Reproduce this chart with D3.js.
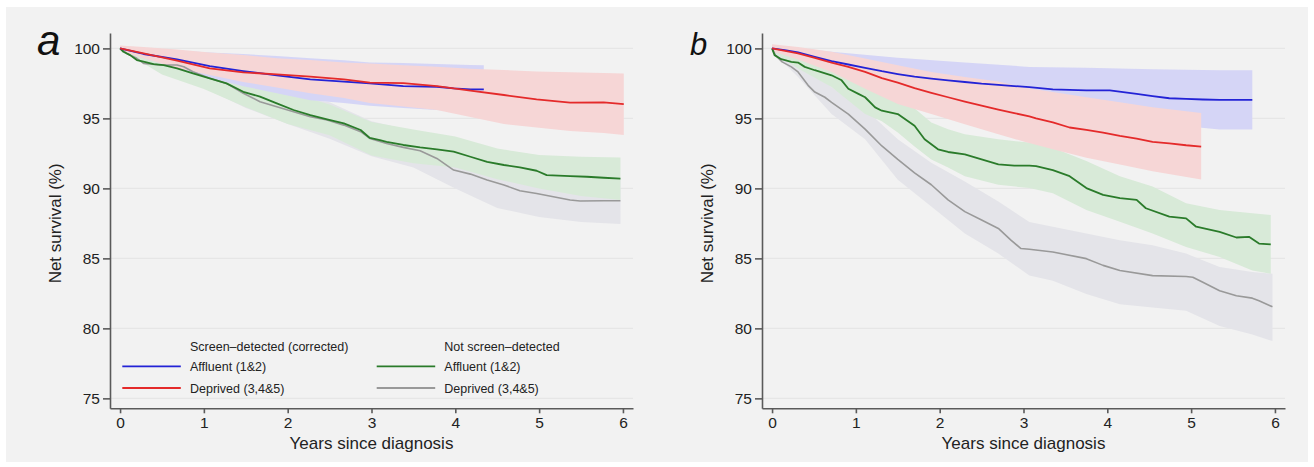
<!DOCTYPE html>
<html><head><meta charset="utf-8">
<script src="https://cdn.jsdelivr.net/npm/d3@7"></script>
<style>body{margin:0;background:#fff}svg{display:block}text{font-family:"Liberation Sans",Arial,Helvetica,sans-serif}</style>
</head><body>
<script>
// ---------- tick labels ----------
const yTicks = [75, 80, 85, 90, 95, 100];
const xTicks = [0, 1, 2, 3, 4, 5, 6];

// ---------- Panel a ----------
const aBlueT = [0,0.28,0.68,1.07,1.47,1.87,2.27,2.67,2.98,3.38,3.78,3.98,4.18,4.34];
const aBlueV = [100,99.6,99.21,98.74,98.38,98.07,97.79,97.62,97.5,97.31,97.26,97.14,97.07,97.07];
const aBlueHi = [100.1,99.95,99.85,99.7,99.6,99.45,99.3,99.15,99.0,98.95,98.88,98.85,98.82,98.8];
const aBlueLo = [99.9,99.3,98.6,97.9,97.3,96.8,96.3,96.1,95.9,95.75,95.6,95.55,95.5,95.5];

const aRedT = [0,0.28,0.68,1.07,1.47,1.87,2.27,2.67,2.98,3.38,3.78,4.18,4.58,4.97,5.37,5.77,6.01];
const aRedV = [100,99.64,99.12,98.57,98.29,98.14,97.98,97.79,97.55,97.52,97.31,96.98,96.67,96.36,96.12,96.14,96.02];
const aRedHi = [100.2,100.1,99.93,99.7,99.52,99.3,99.17,99.0,98.93,98.8,98.69,98.55,98.45,98.35,98.29,98.25,98.21];
const aRedLo = [99.85,99.3,98.6,98.1,97.6,97.2,96.8,96.45,96.1,95.85,95.6,95.1,94.6,94.35,94.1,93.95,93.81];

const aGreenT = [0,0.04,0.12,0.2,0.28,0.4,0.52,0.68,0.87,1.07,1.27,1.47,1.67,1.87,2.07,2.27,2.47,2.67,2.87,2.98,3.1,3.18,3.38,3.58,3.78,3.98,4.18,4.38,4.58,4.77,4.97,5.09,5.37,5.57,5.77,5.97];
const aGreenV = [100,99.76,99.52,99.17,99.05,98.88,98.81,98.57,98.21,97.86,97.5,96.9,96.55,96.07,95.6,95.24,94.93,94.64,94.17,93.6,93.45,93.33,93.1,92.93,92.79,92.62,92.26,91.9,91.67,91.5,91.26,90.95,90.88,90.83,90.76,90.69];
const aGreenBandT = [0,0.5,1,1.5,2,2.5,3,3.5,4,4.5,5,5.5,5.97];
const aGreenHi = [100.05,99.5,98.8,97.9,96.9,96.0,94.75,94.2,93.7,92.85,92.38,92.26,92.21];
const aGreenLo = [99.95,98.14,97.1,95.8,94.6,93.8,92.35,91.8,91.5,90.65,90.0,89.45,89.17];

const aGrayT = [0,0.08,0.2,0.28,0.48,0.68,0.76,0.87,1.07,1.27,1.47,1.67,1.87,2.07,2.27,2.47,2.67,2.87,2.98,3.18,3.38,3.58,3.78,3.98,4.18,4.38,4.58,4.77,4.97,5.17,5.37,5.49,5.77,5.97];
const aGrayV = [100,99.64,99.29,98.93,98.81,98.81,98.69,98.33,97.86,97.5,96.79,96.19,95.83,95.48,95.12,94.88,94.52,94.05,93.57,93.21,92.93,92.69,92.14,91.31,91.02,90.6,90.24,89.83,89.64,89.4,89.17,89.1,89.12,89.12];
const aGrayBandT = [0,0.5,1,1.5,2,2.5,3,3.5,4,4.5,5,5.5,5.97];
const aGrayHi = [100.1,99.3,98.8,97.65,96.6,96.15,94.8,94.1,92.6,92.2,91.25,90.65,90.75];
const aGrayLo = [99.9,98.3,97.2,95.75,94.6,93.55,92.3,91.5,90.0,88.6,87.95,87.6,87.45];

// ---------- Panel b ----------
const bBlueT = [0,0.15,0.31,0.51,0.71,0.91,1.11,1.31,1.5,1.7,1.9,2.1,2.3,2.5,2.7,2.89,3.07,3.35,3.75,4.03,4.35,4.54,4.74,4.94,5.14,5.34,5.54,5.73];
const bBlueV = [100,99.88,99.71,99.4,99.09,98.85,98.61,98.37,98.17,97.98,97.84,97.72,97.6,97.48,97.4,97.31,97.24,97.07,97.0,97.0,96.75,96.59,96.44,96.39,96.35,96.32,96.32,96.32];
const bBlueBandT = [0,0.71,1.5,2.3,3.07,3.75,4.54,5.34,5.73];
const bBlueHi = [100.2,99.76,99.33,98.99,98.68,98.61,98.51,98.44,98.44];
const bBlueLo = [99.9,98.42,97.01,96.21,95.8,95.39,94.67,94.2,94.2];

const bRedT = [0,0.31,0.51,0.71,0.91,1.11,1.31,1.5,1.7,1.9,2.1,2.3,2.5,2.7,2.89,3.07,3.15,3.35,3.55,3.75,3.95,4.15,4.35,4.54,4.74,4.94,5.12];
const bRedV = [100,99.64,99.33,98.99,98.68,98.32,97.88,97.55,97.16,96.83,96.51,96.2,95.91,95.63,95.38,95.14,95.0,94.71,94.35,94.18,93.99,93.75,93.56,93.32,93.22,93.08,92.98];
const bRedBandT = [0,0.31,0.71,1.11,1.5,1.9,2.3,2.7,3.0,3.35,3.75,4.15,4.54,5.12];
const bRedHi = [100.3,100.1,99.76,99.28,98.8,98.32,97.96,97.64,97.2,96.88,96.51,96.15,95.79,95.38];
const bRedLo = [99.8,99.2,98.32,97.12,96.03,95.31,94.59,93.87,93.35,92.79,92.19,91.71,91.23,90.63];

const bGreenT = [0,0.03,0.11,0.23,0.31,0.39,0.51,0.71,0.83,0.91,1.03,1.11,1.23,1.31,1.5,1.7,1.82,1.98,2.1,2.3,2.5,2.7,2.89,3.07,3.15,3.35,3.55,3.75,3.95,4.15,4.35,4.46,4.74,4.94,5.06,5.34,5.54,5.69,5.81,5.95];
const bGreenV = [100,99.52,99.23,99.04,98.99,98.68,98.44,98.08,97.72,97.12,96.75,96.51,95.79,95.55,95.31,94.47,93.51,92.79,92.6,92.43,92.07,91.71,91.63,91.63,91.59,91.3,90.87,90.02,89.54,89.3,89.18,88.58,87.98,87.86,87.26,86.9,86.49,86.54,86.06,86.0];
const bGreenBandT = [0,0.31,0.71,1.11,1.31,1.5,1.7,1.9,2.1,2.3,2.7,3.07,3.35,3.75,4.15,4.54,4.94,5.34,5.73,5.95];
const bGreenHi = [100.2,99.4,98.92,97.72,97.12,96.51,95.72,94.71,94.23,93.87,93.51,93.27,92.91,91.95,90.87,90.14,88.94,88.46,88.22,88.1];
const bGreenLo = [99.8,98.56,97.24,95.31,94.8,93.99,93.0,92.07,91.5,90.87,90.26,90.02,89.66,88.46,87.62,86.78,85.82,85.1,84.14,83.9];

const bGrayT = [0,0.04,0.12,0.23,0.31,0.43,0.51,0.63,0.71,0.91,1.11,1.31,1.5,1.7,1.9,2.1,2.3,2.5,2.7,2.85,2.97,3.07,3.35,3.75,3.95,4.15,4.54,4.94,5.02,5.14,5.34,5.54,5.73,5.81,5.97];
const bGrayV = [100,99.52,99.04,98.68,98.32,97.36,96.88,96.51,96.15,95.3,94.23,93.03,92.07,91.11,90.26,89.18,88.34,87.74,87.14,86.3,85.7,85.65,85.46,84.98,84.5,84.13,83.77,83.7,83.65,83.29,82.69,82.33,82.16,81.97,81.54];
const bGrayBandT = [0,0.31,0.71,1.11,1.5,1.9,2.3,2.7,3.07,3.35,3.75,4.15,4.54,4.94,5.34,5.73,5.97];
const bGrayHi = [100.2,98.92,97.24,95.67,93.51,91.83,90.5,89.06,87.6,87.26,86.78,86.3,85.94,85.34,84.38,84.02,83.9];
const bGrayLo = [99.8,97.96,95.31,93.51,90.62,88.7,86.78,85.34,83.77,83.41,82.45,81.73,81.49,81.25,80.17,79.57,79.09];

// ---------- legend ----------
const legendHeaders = ["Screen\u2013detected (corrected)", "Not screen\u2013detected"];
const legendLabels = ["Affluent (1&2)", "Deprived (3,4&5)"];

// ---------- styles ----------
const COL = {
  blue: {line: "#2323d6", band: "#d5d5f6"},
  red: {line: "#e42a2a", band: "#f6d6d6"},
  green: {line: "#2a7b2a", band: "#d8ead8"},
  gray: {line: "#999999", band: "#e4e4e9"}
};

const W = 1314, H = 467;
const svg = d3.select("body").append("svg").attr("width", W).attr("height", H);
svg.append("rect").attr("x", 6).attr("y", 7).attr("width", 1302).attr("height", 455).attr("fill", "#f2f2f2");

const y = d3.scaleLinear().domain([74.29, 101.1]).range([408.3, 33]);

function zip(T, V) { return T.map((t, i) => ({t, v: V[i]})); }
function zipBand(T, L, Hh) { return T.map((t, i) => ({t, lo: L[i], hi: Hh[i]})); }

function panel(x0, x1, letter, letterSize, series) {
  const g = svg.append("g");
  const x = d3.scaleLinear().domain([-0.12, 6.12]).range([x0, x1]);
  g.selectAll(".grid").data(yTicks).enter().append("line")
    .attr("x1", x0).attr("x2", x1)
    .attr("y1", d => y(d)).attr("y2", d => y(d))
    .attr("stroke", "#e6e6e6").attr("stroke-width", 1.2);
  const area = d3.area().x(d => x(d.t)).y0(d => y(d.lo)).y1(d => y(d.hi));
  const line = d3.line().x(d => x(d.t)).y(d => y(d.v));
  series.forEach(s => {
    g.append("path").attr("d", area(s.band)).attr("fill", COL[s.c].band);
  });
  series.forEach(s => {
    g.append("path").attr("d", line(s.line)).attr("fill", "none")
      .attr("stroke", COL[s.c].line).attr("stroke-width", s.c === "gray" ? 1.6 : 1.8)
      .attr("stroke-linejoin", "round");
  });
  const ya = g.append("g").attr("transform", `translate(${x0},0)`)
    .call(d3.axisLeft(y).tickValues(yTicks).tickSize(7).tickSizeOuter(0).tickPadding(3).tickFormat(d3.format("d")));
  const xa = g.append("g").attr("transform", `translate(0,408.3)`)
    .call(d3.axisBottom(x).tickValues(xTicks).tickSize(5).tickSizeOuter(0).tickPadding(4).tickFormat(d3.format("d")));
  [ya, xa].forEach(a => {
    a.selectAll("path,line").attr("stroke", "#5a5a5a").attr("stroke-width", 1.6);
    a.selectAll("text").attr("font-size", "15.5px").attr("fill", "#222")
      .attr("font-family", '"Liberation Sans",Arial,sans-serif');
  });
  g.append("text").attr("x", x(3)).attr("y", 448.5).attr("text-anchor", "middle")
    .attr("font-size", "17px").attr("fill", "#222").text("Years since diagnosis");
  g.append("text").attr("transform", `translate(${x0 - 49},${y(87.5)}) rotate(-90)`)
    .attr("text-anchor", "middle").attr("font-size", "17px").attr("fill", "#222").text("Net survival (%)");
  g.append("text").attr("x", x0 - (letter === "a" ? 73 : 72)).attr("y", 55)
    .attr("font-family", '"Noto Sans","Open Sans",sans-serif')
    .attr("font-size", letterSize + "px").attr("font-style", "italic").attr("fill", "#111").text(letter);
  return {g, x};
}

panel(110, 633, "a", 42, [
  {c: "gray", band: zipBand(aGrayBandT, aGrayLo, aGrayHi), line: zip(aGrayT, aGrayV)},
  {c: "green", band: zipBand(aGreenBandT, aGreenLo, aGreenHi), line: zip(aGreenT, aGreenV)},
  {c: "blue", band: zipBand(aBlueT, aBlueLo, aBlueHi), line: zip(aBlueT, aBlueV)},
  {c: "red", band: zipBand(aRedT, aRedLo, aRedHi), line: zip(aRedT, aRedV)}
]);

panel(762, 1285, "b", 31, [
  {c: "gray", band: zipBand(bGrayBandT, bGrayLo, bGrayHi), line: zip(bGrayT, bGrayV)},
  {c: "green", band: zipBand(bGreenBandT, bGreenLo, bGreenHi), line: zip(bGreenT, bGreenV)},
  {c: "blue", band: zipBand(bBlueBandT, bBlueLo, bBlueHi), line: zip(bBlueT, bBlueV)},
  {c: "red", band: zipBand(bRedBandT, bRedLo, bRedHi), line: zip(bRedT, bRedV)}
]);

const lg = svg.append("g");
const legCols = [{sx: 122.3, tx: 190, colors: ["blue", "red"]}, {sx: 376.7, tx: 444.3, colors: ["green", "gray"]}];
const legRowsY = [366.3, 388];
legCols.forEach((c, ci) => {
  lg.append("text").attr("x", c.tx).attr("y", 350.5).attr("font-size", "12.5px").attr("fill", "#222").text(legendHeaders[ci]);
  c.colors.forEach((col, ri) => {
    lg.append("line").attr("x1", c.sx).attr("x2", c.sx + 58.5)
      .attr("y1", legRowsY[ri]).attr("y2", legRowsY[ri])
      .attr("stroke", COL[col].line).attr("stroke-width", 1.8);
    lg.append("text").attr("x", c.tx).attr("y", legRowsY[ri] + 4.5).attr("font-size", "12.5px")
      .attr("fill", "#222").text(legendLabels[ri]);
  });
});
</script>
</body></html>
